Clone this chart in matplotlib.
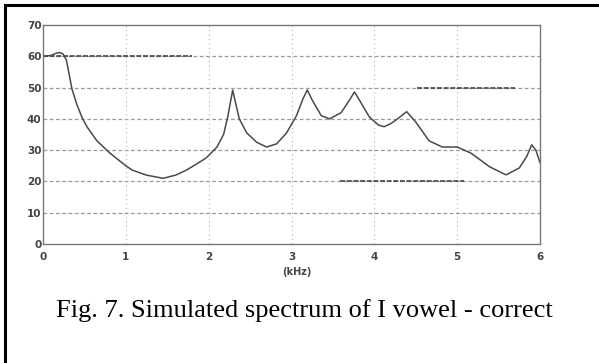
"""Simulated spectrum of I vowel, redrawn with matplotlib."""
import matplotlib
matplotlib.use('Agg')
import matplotlib.pyplot as plt
from matplotlib.patches import Rectangle

# spectrum (kHz, dB)
freq_khz = [0.02, 0.1, 0.16, 0.2, 0.24, 0.28, 0.31, 0.35, 0.41, 0.47, 0.53, 0.65,
            0.81, 1.0, 1.08, 1.25, 1.45, 1.6, 1.73, 1.85, 1.97, 2.1, 2.18, 2.23,
            2.29, 2.33, 2.37, 2.46, 2.58, 2.7, 2.82, 2.94, 3.06, 3.14, 3.19, 3.25,
            3.36, 3.46, 3.6, 3.7, 3.76, 3.82, 3.94, 4.05, 4.12, 4.2, 4.28, 4.39,
            4.5, 4.66, 4.82, 5.0, 5.17, 5.39, 5.59, 5.75, 5.84, 5.9, 5.95, 6.0]
level_db = [60.0, 60.3, 61.0, 61.2, 60.8, 59.0, 55.0, 49.5, 44.5, 40.5, 37.5, 33.0,
            29.0, 25.0, 23.6, 22.0, 21.0, 22.0, 23.6, 25.5, 27.5, 31.0, 35.0, 40.6,
            49.2, 44.5, 40.0, 35.5, 32.5, 31.0, 32.0, 35.5, 41.0, 46.5, 49.2, 46.0,
            41.0, 40.0, 42.0, 46.0, 48.6, 46.0, 40.6, 38.0, 37.5, 38.5, 40.0, 42.3,
            39.0, 33.0, 31.0, 31.0, 29.0, 24.7, 22.1, 24.3, 28.0, 31.7, 30.0, 26.0]

# darker reference segments (start kHz, end kHz, level dB)
ref_start = [0.0, 4.52, 3.58]
ref_end = [1.8, 5.7, 5.08]
ref_level = [60, 50, 20]

x_ticks = [0, 1, 2, 3, 4, 5, 6]
y_ticks = [0, 10, 20, 30, 40, 50, 60, 70]
caption = 'Fig. 7. Simulated spectrum of I vowel - correct'
tick_font = ['Liberation Sans Narrow', 'DejaVu Sans']

fig = plt.figure(figsize=(5.99, 3.63), dpi=100)
W, H = 599, 363

# page frame (runs off the right and bottom edges)
fig.patches.append(Rectangle((5 / W, -0.1), 1.2, 1 - 5 / H + 0.1,
                             transform=fig.transFigure, fill=False,
                             edgecolor='black', linewidth=2.2))

ax = fig.add_axes([43 / W, (H - 244) / H, (540 - 43) / W, (244 - 25) / H])
ax.set_xlim(0, 6)
ax.set_ylim(0, 70)

for y in y_ticks[1:-1]:
    ax.axhline(y, color='#9a9a9a', linewidth=0.9, linestyle=(0, (3, 2)))
for x in x_ticks[1:-1]:
    ax.axvline(x, color='#b0b0b0', linewidth=0.8, linestyle=(0, (1, 3)))

for s, e, lv in zip(ref_start, ref_end, ref_level):
    ax.plot([s, e], [lv, lv], color='#444444', linewidth=1.2, linestyle=(0, (3, 1)))

ax.plot(freq_khz, level_db, color='#4a4a4a', linewidth=1.1)

for side in ax.spines.values():
    side.set_color('#777777')
    side.set_linewidth(1.0)

ax.set_xticks(x_ticks)
ax.set_yticks(y_ticks)
ax.tick_params(length=0, labelsize=7.5, colors='#444444')
ax.tick_params(axis='x', pad=6)
ax.tick_params(axis='y', pad=1)
for lbl in ax.get_xticklabels() + ax.get_yticklabels():
    lbl.set_fontweight('bold')
    lbl.set_family(tick_font)

fig.text(297 / W, 1 - 272 / H, '(kHz)', ha='center', va='center',
         fontsize=7, color='#444444', fontweight='bold', family=tick_font)

fig.text(304 / W, 1 - 317 / H, caption, ha='center', va='baseline',
         fontsize=19, family='Liberation Serif', color='black')

fig.savefig('out.png', dpi=100)
